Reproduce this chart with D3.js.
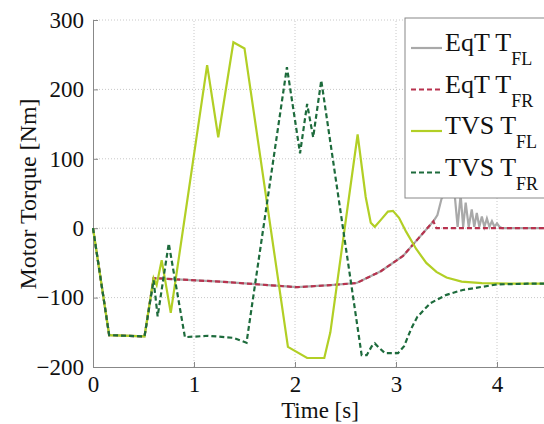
<!DOCTYPE html>
<html>
  <head>
    <meta charset="utf-8">
    <title>motor torque</title>
    <script type="text/javascript" src="https://d3js.org/d3.v7.min.js"></script>
    <style>
      body { margin:0; background:#fff; }
      svg text { font-family:"Liberation Serif", "Times New Roman", Times, "DejaVu Serif", serif; fill:#111; }
    </style>
  </head>
  <body>
    <svg width="544" height="424"></svg>
    <script>
    	// data (time in s, torque in Nm)
    	var eqtFL_t = [0,0.16,0.51,0.60,1.26,2.02,2.35,2.61,2.85,3.07,3.22,3.37,3.41,3.45,3.52,3.58,3.61,3.64,3.665,3.69,3.72,3.75,3.775,3.80,3.825,3.85,3.875,3.90,3.925,3.95,3.975,4.00,4.025,4.05,5];
    	var eqtFL_v = [0,-154,-156,-72,-77,-85,-82,-79,-62,-40,-15,10,19,42,60,50,2,48,2,37,2,27,2,22,2,17,2,14,2,10,2,7,2,0,0];
    	var eqtFR_t = [0,0.16,0.51,0.60,1.26,2.02,2.35,2.61,2.85,3.07,3.22,3.37,3.40,5];
    	var eqtFR_v = [0,-154,-156,-72,-77,-85,-82,-79,-62,-40,-15,10,0,0];
    	var tvsFL_t = [0,0.16,0.51,0.60,0.63,0.68,0.77,1.13,1.24,1.39,1.50,1.93,2.12,2.29,2.35,2.62,2.70,2.75,2.79,2.85,2.92,2.97,3.03,3.10,3.20,3.30,3.40,3.50,3.65,3.85,4.20,5];
    	var tvsFL_v = [0,-154,-156,-72,-82,-46,-122,235,131,268,259,-171,-187,-187,-150,135,45,8,2,12,24,25,15,-5,-30,-50,-63,-71,-77,-79,-80,-80];
    	var tvsFR_t = [0,0.16,0.51,0.60,0.64,0.75,0.91,1.14,1.39,1.52,1.92,2.05,2.12,2.18,2.26,2.66,2.71,2.76,2.79,2.83,2.89,3.02,3.08,3.15,3.21,3.34,3.50,3.66,4.00,4.30,5];
    	var tvsFR_v = [0,-154,-156,-75,-127,-22,-157,-155,-158,-165,232,108,179,131,213,-183,-183,-170,-166,-172,-180,-180,-170,-145,-128,-108,-96,-89,-81,-80,-80];

    	var xTicks = [0,1,2,3,4];
    	var yTicks = [-200,-100,0,100,200,300];

    	var series = [
    		{name:"EqT T", sub:"FL", t:eqtFL_t, v:eqtFL_v, color:"#a9a9a9", dash:null},
    		{name:"EqT T", sub:"FR", t:eqtFR_t, v:eqtFR_v, color:"#b8324e", dash:"5,3"},
    		{name:"TVS T", sub:"FL", t:tvsFL_t, v:tvsFL_v, color:"#b2cf25", dash:null},
    		{name:"TVS T", sub:"FR", t:tvsFR_t, v:tvsFR_v, color:"#1d6b3c", dash:"5,3"}
    	];

    	var svg = d3.select("svg");
    	var x = d3.scaleLinear().domain([0,5]).range([93,598]);
    	var y = d3.scaleLinear().domain([-200,300]).range([367,20]);

    	// grid
    	svg.append("g").selectAll("line").data(yTicks.slice(1)).enter().append("line")
    		.attr("x1",x(0)).attr("x2",x(5))
    		.attr("y1",function(d){return y(d);}).attr("y2",function(d){return y(d);})
    		.attr("stroke","#c8c8c8").attr("stroke-dasharray","1,2");
    	svg.append("g").selectAll("line").data(xTicks.slice(1)).enter().append("line")
    		.attr("x1",function(d){return x(d);}).attr("x2",function(d){return x(d);})
    		.attr("y1",y(-200)).attr("y2",y(300))
    		.attr("stroke","#c8c8c8").attr("stroke-dasharray","1,2");

    	// axes
    	var xAxis = svg.append("g").attr("transform","translate(0,"+y(-200)+")")
    		.call(d3.axisBottom(x).tickValues(xTicks).tickFormat(d3.format("d")).tickSizeInner(-5).tickSizeOuter(0).tickPadding(9));
    	var yAxis = svg.append("g").attr("transform","translate("+x(0)+",0)")
    		.call(d3.axisLeft(y).tickValues(yTicks).tickFormat(d3.format("d")).tickSizeInner(-5).tickSizeOuter(0).tickPadding(9));
    	[xAxis,yAxis].forEach(function(a){
    		a.attr("font-family",null).attr("font-size",null);
    		a.select(".domain").attr("stroke","#888");
    		a.selectAll(".tick line").attr("stroke","#888");
    		a.selectAll(".tick text").attr("font-size",23).attr("fill","#111");
    	});

    	// lines
    	var line = d3.line()
    		.x(function(d){return x(d[0]);})
    		.y(function(d){return y(d[1]);});
    	svg.append("g").selectAll("path").data(series).enter().append("path")
    		.attr("d",function(s){return line(d3.zip(s.t,s.v));})
    		.attr("fill","none")
    		.attr("stroke",function(s){return s.color;})
    		.attr("stroke-width",2.2)
    		.attr("stroke-dasharray",function(s){return s.dash;});

    	// labels
    	svg.append("text").attr("x",320).attr("y",418).attr("text-anchor","middle")
    		.attr("font-size",23).text("Time [s]");
    	svg.append("text").attr("transform","translate(36,194) rotate(-90)")
    		.attr("text-anchor","middle").attr("font-size",24).text("Motor Torque [Nm]");

    	// legend
    	var lg = svg.append("g");
    	lg.append("rect").attr("x",405).attr("y",18).attr("width",170).attr("height",180)
    		.attr("fill","#fff").attr("stroke","#888");
    	var rows = lg.selectAll(".row").data(series).enter().append("g")
    		.attr("transform",function(d,i){return "translate(0,"+(48+i*41.5)+")";});
    	rows.append("line").attr("x1",411).attr("x2",442).attr("y1",0).attr("y2",0)
    		.attr("stroke",function(s){return s.color;}).attr("stroke-width",2.2)
    		.attr("stroke-dasharray",function(s){return s.dash;});
    	var tx = rows.append("text").attr("x",445).attr("y",3).attr("font-size",26);
    	tx.append("tspan").text(function(s){return s.name;});
    	tx.append("tspan").attr("dy",14).attr("font-size",18).text(function(s){return s.sub;});
    </script>
  </body>
</html>
